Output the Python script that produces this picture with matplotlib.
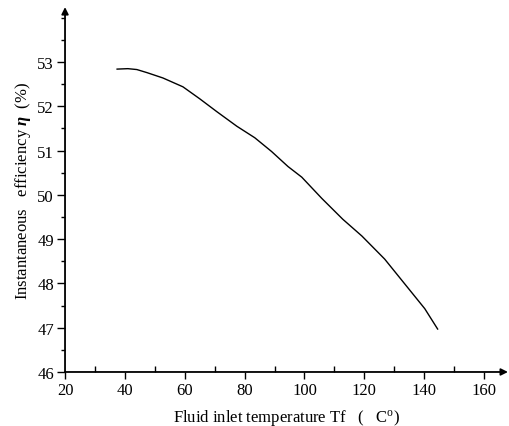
import matplotlib
matplotlib.use('Agg')
import matplotlib.pyplot as plt
from matplotlib.ticker import MultipleLocator

matplotlib.rc('font', family='Liberation Serif', size=12)
matplotlib.rcParams['mathtext.fontset'] = 'custom'
matplotlib.rcParams['mathtext.rm'] = 'Liberation Serif'
matplotlib.rcParams['mathtext.it'] = 'Liberation Serif:italic'
matplotlib.rcParams['mathtext.bf'] = 'Liberation Serif:bold:italic'

# fluid inlet temperature (C) and instantaneous efficiency (%)
temp = [37.4, 41.0, 44.0, 47.4, 52.7, 59.4, 65.0, 70.7, 77.4, 83.4, 89.0, 94.5,
        99.1, 105.8, 112.8, 119.2, 126.8, 133.5, 140.2, 144.5]
eff = [52.84, 52.85, 52.83, 52.76, 52.64, 52.44, 52.17, 51.88, 51.55, 51.29, 50.98, 50.64,
       50.40, 49.92, 49.45, 49.07, 48.55, 47.99, 47.43, 46.97]

x_ticks = [20, 40, 60, 80, 100, 120, 140, 160]
y_ticks = [46, 47, 48, 49, 50, 51, 52, 53]

fig = plt.figure(figsize=(5.10, 4.27), dpi=100)
ax = fig.add_axes([0.1275, 0.1265, 0.8725 - 0.004, 0.981 - 0.1265])

ax.plot(temp, eff, color='black', lw=1.0)

ax.set_xlim(20, 168)
ax.set_ylim(46, 54.24)
ax.set_xticks(x_ticks)
ax.set_yticks(y_ticks)
ax.xaxis.set_minor_locator(MultipleLocator(10))
ax.yaxis.set_minor_locator(MultipleLocator(0.5))

for s in ['top', 'right', 'left', 'bottom']:
    ax.spines[s].set_visible(False)

# axis lines with arrow heads
ax.annotate('', xy=(1, 0), xytext=(0, 0), xycoords='axes fraction',
            arrowprops=dict(arrowstyle='-|>', color='black', lw=1.3,
                            mutation_scale=10, shrinkA=0, shrinkB=0))
ax.annotate('', xy=(0, 1), xytext=(0, 0), xycoords='axes fraction',
            arrowprops=dict(arrowstyle='-|>', color='black', lw=1.3,
                            mutation_scale=10, shrinkA=0, shrinkB=0))

ax.tick_params(axis='y', which='major', direction='out', length=6, width=1, pad=2)
ax.tick_params(axis='y', which='minor', direction='out', length=3, width=1)
ax.tick_params(axis='x', which='major', direction='out', length=5, width=1, pad=2)
ax.tick_params(axis='x', which='minor', direction='in', length=4, width=1)
ax.tick_params(labelsize=12)

ax.set_xlabel(r'Fluid inlet temperature Tf   (   C$^{\mathrm{o}}$)', fontsize=12, labelpad=7)
ax.set_ylabel(r'Instantaneous   efficiency $\mathbf{\eta}$  (%)', fontsize=12, labelpad=3)

fig.savefig('out.png', dpi=100)
